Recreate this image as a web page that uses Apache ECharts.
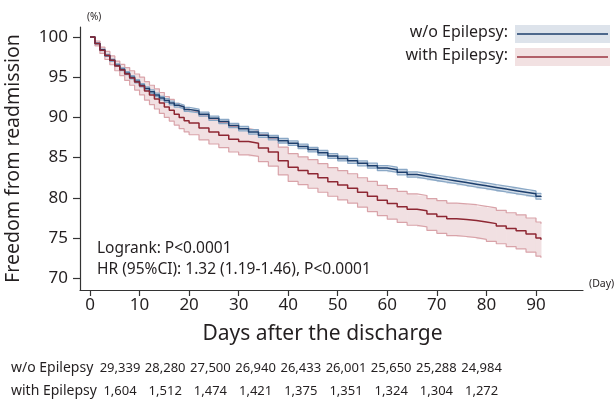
<!DOCTYPE html>
<html>
<head>
<meta charset="utf-8">
<script src="https://cdn.jsdelivr.net/npm/echarts@6/dist/echarts.min.js"></script>
<style>
  html, body { margin: 0; padding: 0; background: #fff; }
  #chart { width: 615px; height: 402px; }
</style>
</head>
<body>
<div id="chart"></div>
<script>
// days after discharge where the curves are read
const days = [0, 1, 2, 3, 4, 5, 6, 7, 8, 9, 10, 11, 12, 13, 14, 15, 16, 17, 18, 19, 20,
  22, 24, 26, 28, 30, 32, 34, 36, 38, 40, 42, 44, 46, 48, 50, 52, 54, 56, 58, 60,
  62, 64, 66, 68, 70, 72, 74, 76, 78, 80, 82, 84, 86, 88, 90, 91];

// w/o Epilepsy (%)
const woSurv = [100, 99.2, 98.4, 97.7, 97.1, 96.5, 96.0, 95.5, 95.0, 94.5, 94.0, 93.6, 93.2, 92.8, 92.4, 92.1, 91.8, 91.5, 91.3, 91.0, 90.8,
  90.4, 89.9, 89.5, 89.0, 88.6, 88.2, 87.8, 87.5, 87.1, 86.8, 86.4, 86.0, 85.6, 85.2, 84.9, 84.6, 84.3, 84.0, 83.7, 83.5,
  83.2, 82.9, 82.7, 82.5, 82.3, 82.1, 81.9, 81.7, 81.5, 81.3, 81.1, 80.9, 80.7, 80.5, 80.2, 80.1];
const woLo = [100, 99.15, 98.3, 97.58, 96.96, 96.34, 95.83, 95.32, 94.81, 94.31, 93.8, 93.39, 92.98, 92.58, 92.18, 91.87, 91.57, 91.27, 91.06, 90.76, 90.56,
  90.15, 89.64, 89.24, 88.73, 88.33, 87.93, 87.52, 87.22, 86.82, 86.52, 86.11, 85.71, 85.31, 84.9, 84.6, 84.29, 83.99, 83.69, 83.38, 83.18,
  82.87, 82.57, 82.37, 82.16, 81.96, 81.76, 81.55, 81.35, 81.15, 80.95, 80.74, 80.54, 80.34, 80.14, 79.84, 79.74];
const woHi = [100, 99.25, 98.5, 97.82, 97.24, 96.66, 96.17, 95.68, 95.19, 94.69, 94.2, 93.81, 93.42, 93.02, 92.62, 92.33, 92.03, 91.73, 91.54, 91.24, 91.04,
  90.65, 90.16, 89.76, 89.27, 88.87, 88.47, 88.08, 87.78, 87.38, 87.08, 86.69, 86.29, 85.89, 85.5, 85.2, 84.91, 84.61, 84.31, 84.02, 83.82,
  83.53, 83.23, 83.03, 82.84, 82.64, 82.44, 82.25, 82.05, 81.85, 81.65, 81.46, 81.26, 81.06, 80.86, 80.56, 80.46];

// with Epilepsy (%)
const epSurv = [100, 99.2, 98.35, 97.7, 97.1, 96.4, 95.9, 95.4, 94.9, 94.4, 93.9, 93.3, 92.8, 92.3, 91.8, 91.3, 90.9, 90.4, 90.0, 89.6, 89.3,
  88.7, 88.2, 87.8, 87.3, 87.0, 86.8, 86.2, 85.7, 84.6, 83.8, 83.4, 83.0, 82.5, 82.0, 81.6, 81.2, 80.7, 80.2, 79.7, 79.3,
  78.9, 78.6, 78.4, 78.0, 77.7, 77.4, 77.3, 77.2, 77.0, 76.8, 76.5, 76.2, 75.9, 75.5, 75.0, 74.8];
const epLo = [100, 98.9, 97.95, 97.2, 96.55, 95.8, 95.2, 94.6, 94.0, 93.4, 92.8, 92.15, 91.6, 91.05, 90.5, 90.0, 89.55, 89.05, 88.6, 88.2, 87.85,
  87.2, 86.7, 86.25, 85.7, 85.35, 85.15, 84.5, 83.95, 82.85, 82.05, 81.65, 81.2, 80.7, 80.2, 79.75, 79.35, 78.85, 78.3, 77.8, 77.35,
  76.95, 76.6, 76.4, 75.95, 75.6, 75.3, 75.2, 75.05, 74.85, 74.6, 74.3, 73.95, 73.65, 73.25, 72.75, 72.55];
const epHi = [100, 99.5, 98.75, 98.2, 97.65, 97.0, 96.6, 96.2, 95.8, 95.4, 95.0, 94.45, 94.0, 93.55, 93.1, 92.6, 92.25, 91.75, 91.4, 91.0, 90.75,
  90.2, 89.7, 89.35, 88.9, 88.6, 88.4, 87.85, 87.35, 86.3, 85.5, 85.1, 84.75, 84.25, 83.75, 83.4, 83.0, 82.5, 82.05, 81.55, 81.15,
  80.8, 80.5, 80.3, 79.9, 79.65, 79.35, 79.25, 79.15, 78.95, 78.75, 78.45, 78.15, 77.9, 77.5, 77.0, 76.8];

// axis ticks
const xTicks = [0, 10, 20, 30, 40, 50, 60, 70, 80, 90];
const yTicks = [70, 75, 80, 85, 90, 95, 100];

// numbers at risk
const riskLabels = ['w/o Epilepsy', 'with Epilepsy'];
const riskWo = ['29,339', '28,280', '27,500', '26,940', '26,433', '26,001', '25,650', '25,288', '24,984'];
const riskEp = ['1,604', '1,512', '1,474', '1,421', '1,375', '1,351', '1,324', '1,304', '1,272'];

const FONT = 'Noto Sans';
const TXT = '#231f20';

const pts = arr => days.map((d, i) => [d, arr[i]]);

// confidence band: one rect per step interval, between lower and upper bound
function bandSeries(lo, hi, fill) {
  return {
    type: 'custom', silent: true, z: 1,
    data: days.slice(0, -1).map((d, i) => [d, days[i + 1], lo[i], hi[i]]),
    encode: { x: [0, 1], y: [2, 3] },
    renderItem: (params, api) => {
      const a = api.coord([api.value(0), api.value(3)]);
      const b = api.coord([api.value(1), api.value(2)]);
      return { type: 'rect', shape: { x: a[0], y: a[1], width: b[0] - a[0] + 0.6, height: b[1] - a[1] },
        style: { fill: fill } };
    }
  };
}

function lineSeries(arr, color, width, z) {
  return { type: 'line', data: pts(arr), step: 'end', symbol: 'none', silent: true,
    lineStyle: { color: color, width: width }, z: z };
}

const chart = echarts.init(document.getElementById('chart'), null, { renderer: 'canvas' });

const graphics = [];
// units
graphics.push({ type: 'text', left: 87, top: 12, style: { text: '(%)', font: '10px "' + FONT + '"', fill: TXT } });
graphics.push({ type: 'text', left: 589, top: 279, style: { text: '(Day)', font: '10.5px "' + FONT + '"', fill: TXT } });
// legend
const legendRows = [
  { text: 'w/o Epilepsy:', fill: '#dde3eb', line: '#1d3f6d', y: 25 },
  { text: 'with Epilepsy:', fill: '#f2e1e2', line: '#9b3440', y: 48 }
];
legendRows.forEach(r => {
  graphics.push({ type: 'text', right: 615 - 508, top: r.y - 1, style: { text: r.text, font: '16px "' + FONT + '"', fill: TXT } });
  graphics.push({ type: 'rect', shape: { x: 515, y: r.y, width: 95, height: 18 }, style: { fill: r.fill } });
  graphics.push({ type: 'line', shape: { x1: 517, y1: r.y + 9, x2: 608, y2: r.y + 9 }, style: { stroke: r.line, lineWidth: 1.6 } });
});
// statistics
graphics.push({ type: 'text', left: 97, top: 241, style: { text: 'Logrank: P<0.0001', font: '15.5px "' + FONT + '"', fill: TXT } });
graphics.push({ type: 'text', left: 97, top: 262, style: { text: 'HR (95%CI): 1.32 (1.19-1.46), P<0.0001', font: '15.5px "' + FONT + '"', fill: TXT } });
// numbers at risk
const col0 = 120, colStep = 45.2;
[riskWo, riskEp].forEach((row, r) => {
  const y = 368 + r * 23;
  graphics.push({ type: 'text', x: 11, y: y, style: { text: riskLabels[r], font: '14px "' + FONT + '"', fill: TXT, verticalAlign: 'middle' } });
  row.forEach((v, i) => {
    graphics.push({ type: 'text', x: col0 + i * colStep, y: y,
      style: { text: v, font: '13px "' + FONT + '"', fill: TXT, align: 'center', verticalAlign: 'middle' } });
  });
});

const option = {
  animation: false,
  backgroundColor: '#fff',
  grid: { left: 80, right: 32, top: 27, bottom: 112, containLabel: false, outerBoundsMode: 'none' },
  xAxis: {
    type: 'value', min: -2.02, max: 99.5,
    name: 'Days after the discharge', nameLocation: 'middle', nameGap: 34,
    nameTextStyle: { fontFamily: FONT, fontSize: 21, color: TXT, padding: [0, 18, 0, 0] },
    axisLine: { show: true, onZero: false, lineStyle: { color: '#333', width: 1.2 } },
    axisTick: { show: true, length: 6, customValues: xTicks, lineStyle: { color: '#333', width: 1.2 } },
    axisLabel: { customValues: xTicks, fontFamily: FONT, fontSize: 17, color: TXT, margin: 7 },
    splitLine: { show: false }
  },
  yAxis: {
    type: 'value', min: 68.55, max: 101.24,
    name: 'Freedom from readmission', nameLocation: 'middle', nameGap: 57, nameRotate: 90,
    nameTextStyle: { fontFamily: FONT, fontSize: 19.5, color: TXT },
    axisLine: { show: true, onZero: false, lineStyle: { color: '#333', width: 1.2 } },
    axisTick: { show: true, length: 7, customValues: yTicks, lineStyle: { color: '#333', width: 1.2 } },
    axisLabel: { customValues: yTicks, fontFamily: FONT, fontSize: 17, color: TXT, margin: 12 },
    splitLine: { show: false }
  },
  series: [
    bandSeries(epLo, epHi, '#f1e0e2'),
    bandSeries(woLo, woHi, '#d3dde8'),
    lineSeries(epLo, '#d9a3a9', 1.2, 2),
    lineSeries(epHi, '#d9a3a9', 1.2, 2),
    lineSeries(woLo, '#8aa8c6', 1.3, 2),
    lineSeries(woHi, '#8aa8c6', 1.3, 2),
    lineSeries(woSurv, '#1d3f6d', 1.5, 3),
    lineSeries(epSurv, '#8e2733', 1.5, 3)
  ],
  graphic: graphics
};

chart.setOption(option);
</script>
</body>
</html>
